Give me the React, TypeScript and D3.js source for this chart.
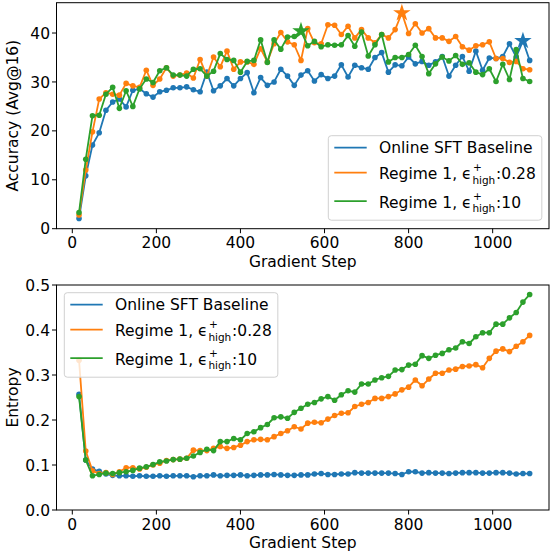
import React, { useEffect, useRef } from "react";
import * as d3 from "d3";

const steps = [16, 32, 48, 64, 80, 96, 112, 128, 144, 160, 176, 192, 208, 224, 240, 256, 272, 288, 304, 320, 336, 352, 368, 384, 400, 416, 432, 448, 464, 480, 496, 512, 528, 544, 560, 576, 592, 608, 624, 640, 656, 672, 688, 704, 720, 736, 752, 768, 784, 800, 816, 832, 848, 864, 880, 896, 912, 928, 944, 960, 976, 992, 1008, 1024, 1040, 1056, 1072, 1088];

const accBaseline = [2.1, 10.8, 17.1, 19.6, 24.2, 25.9, 26.5, 24.9, 28.3, 28.6, 27.6, 26.9, 28.0, 28.3, 28.8, 28.8, 29.0, 28.4, 28.0, 32.0, 28.2, 29.2, 30.7, 29.2, 30.7, 31.9, 27.8, 30.9, 29.3, 30.0, 32.6, 31.2, 29.3, 31.4, 32.3, 30.2, 31.5, 30.7, 31.2, 33.5, 31.0, 33.4, 32.9, 32.6, 35.0, 36.0, 32.0, 33.5, 33.3, 35.1, 33.7, 34.2, 33.4, 34.1, 35.2, 31.2, 33.4, 35.2, 32.2, 36.3, 32.4, 34.9, 34.8, 35.2, 37.8, 35.1, 38.4, 34.4];
const accEps028 = [2.8, 12.0, 19.8, 26.5, 27.8, 27.5, 27.3, 29.7, 29.2, 28.9, 32.4, 29.3, 30.6, 32.9, 31.2, 31.4, 31.8, 30.8, 34.6, 31.2, 35.1, 33.1, 36.3, 32.6, 34.1, 34.1, 33.6, 36.8, 34.1, 37.8, 40.1, 38.2, 37.6, 34.4, 40.9, 38.0, 37.8, 41.7, 41.6, 39.7, 41.4, 39.0, 40.7, 39.0, 38.0, 39.7, 39.0, 40.7, 44.1, 39.9, 41.9, 40.0, 40.9, 39.0, 39.0, 38.3, 39.3, 37.2, 36.5, 37.4, 37.6, 38.2, 34.8, 34.8, 34.0, 34.2, 32.7, 32.5];
const accEps10 = [3.3, 14.2, 23.1, 23.2, 27.5, 28.9, 24.6, 28.2, 25.0, 28.6, 30.6, 29.9, 32.3, 32.9, 31.4, 31.4, 31.2, 32.6, 32.7, 31.2, 32.2, 35.8, 34.6, 34.4, 32.0, 34.2, 34.4, 38.6, 34.0, 38.6, 36.7, 39.2, 39.3, 40.4, 37.4, 38.3, 37.2, 37.6, 37.5, 37.6, 39.5, 37.3, 40.2, 35.3, 37.6, 39.7, 34.1, 35.0, 35.0, 35.6, 37.5, 35.2, 31.7, 33.7, 35.1, 34.3, 35.4, 33.6, 33.9, 32.0, 31.5, 32.7, 30.1, 33.6, 30.5, 36.6, 30.7, 30.1];

const entBaseline = [0.257, 0.111, 0.091, 0.086, 0.080, 0.077, 0.076, 0.076, 0.075, 0.076, 0.075, 0.075, 0.076, 0.075, 0.076, 0.076, 0.076, 0.074, 0.076, 0.076, 0.078, 0.076, 0.077, 0.077, 0.078, 0.076, 0.077, 0.078, 0.078, 0.079, 0.078, 0.077, 0.077, 0.078, 0.078, 0.080, 0.081, 0.079, 0.079, 0.080, 0.080, 0.083, 0.082, 0.082, 0.082, 0.082, 0.082, 0.081, 0.079, 0.085, 0.085, 0.082, 0.083, 0.082, 0.082, 0.081, 0.082, 0.083, 0.083, 0.083, 0.082, 0.082, 0.083, 0.083, 0.082, 0.080, 0.081, 0.081];
const entEps028 = [0.333, 0.131, 0.087, 0.081, 0.083, 0.079, 0.085, 0.094, 0.094, 0.091, 0.095, 0.100, 0.104, 0.110, 0.112, 0.113, 0.115, 0.133, 0.132, 0.132, 0.137, 0.141, 0.137, 0.139, 0.144, 0.152, 0.156, 0.157, 0.156, 0.163, 0.170, 0.176, 0.185, 0.180, 0.193, 0.195, 0.194, 0.202, 0.210, 0.215, 0.216, 0.230, 0.235, 0.239, 0.248, 0.248, 0.252, 0.258, 0.267, 0.273, 0.289, 0.276, 0.291, 0.304, 0.304, 0.311, 0.313, 0.319, 0.320, 0.323, 0.316, 0.337, 0.353, 0.358, 0.352, 0.364, 0.374, 0.388];
const entEps10 = [0.252, 0.111, 0.076, 0.079, 0.082, 0.081, 0.083, 0.085, 0.088, 0.093, 0.096, 0.101, 0.107, 0.109, 0.112, 0.113, 0.115, 0.120, 0.128, 0.135, 0.132, 0.152, 0.152, 0.159, 0.156, 0.170, 0.174, 0.183, 0.190, 0.205, 0.207, 0.204, 0.217, 0.226, 0.235, 0.239, 0.247, 0.252, 0.244, 0.256, 0.265, 0.262, 0.280, 0.280, 0.289, 0.294, 0.297, 0.311, 0.312, 0.322, 0.324, 0.343, 0.337, 0.344, 0.348, 0.356, 0.360, 0.374, 0.370, 0.385, 0.394, 0.394, 0.413, 0.413, 0.427, 0.439, 0.462, 0.479];

const xTicks = [0, 200, 400, 600, 800, 1000];
const accTicks = [0, 10, 20, 30, 40];
const entTicks = [0, 0.1, 0.2, 0.3, 0.4, 0.5];
const seriesColors = ["#1f77b4", "#ff7f0e", "#2ca02c"];
const baselineName = "Online SFT Baseline";
const regimePrefix = "Regime 1, \u03F5";
const epsLabels = ["0.28", "10"];

const FONT = "DejaVu Sans";
const FS = 15.5;
const SFS = 10.5;

export default function App() {
  const ref = useRef<SVGSVGElement>(null);

  useEffect(() => {
    const svg = d3.select(ref.current);
    svg.selectAll("*").remove();
    svg.append("rect").attr("width", 550).attr("height", 554).attr("fill", "#fff");

    const measure = (txt: string, size: number) => {
      const t = svg
        .append("text")
        .attr("font-family", FONT)
        .attr("font-size", size)
        .attr("visibility", "hidden")
        .text(txt);
      const w = (t.node() as SVGTextElement).getComputedTextLength();
      t.remove();
      return w;
    };

    const x = d3.scaleLinear().domain([-37.6, 1134]).range([56.5, 549]);

    const panels = [
      {
        y: d3.scaleLinear().domain([0, 46.2]).range([228.7, 2.7]),
        series: [accBaseline, accEps028, accEps10],
        ticks: accTicks,
        fmt: (d: number) => d3.format("d")(d),
        ylabel: "Accuracy (Avg@16)",
        stars: true,
        legend: { left: 328.3, top: 135.7 },
      },
      {
        y: d3.scaleLinear().domain([0, 0.5]).range([510, 285]),
        series: [entBaseline, entEps028, entEps10],
        ticks: entTicks,
        fmt: (d: number) => d3.format(".1f")(d),
        ylabel: "Entropy",
        stars: false,
        legend: { left: 64.3, top: 292.7 },
      },
    ];

    panels.forEach((p) => {
      const g = svg.append("g");
      const [yBottom, yTop] = p.y.range();
      const [xl, xr] = x.range();

      p.series.forEach((vals, si) => {
        const line = d3
          .line<number>()
          .x((_, i) => x(steps[i]))
          .y((d) => p.y(d));
        g.append("path")
          .attr("d", line(vals))
          .attr("fill", "none")
          .attr("stroke", seriesColors[si])
          .attr("stroke-width", 1.8)
          .attr("stroke-linejoin", "round");
        g.selectAll(null)
          .data(vals)
          .enter()
          .append("circle")
          .attr("cx", (_, i) => x(steps[i]))
          .attr("cy", (d) => p.y(d))
          .attr("r", 2.8)
          .attr("fill", seriesColors[si]);
      });
      if (p.stars) {
        p.series.forEach((vals, si) => {
          const mi = d3.maxIndex(vals);
          g.append("path")
            .attr("d", d3.symbol(d3.symbolStar, 95)())
            .attr("transform", `translate(${x(steps[mi])},${p.y(vals[mi])})`)
            .attr("fill", seriesColors[si]);
        });
      }

      g.append("rect")
        .attr("x", xl)
        .attr("y", yTop)
        .attr("width", xr - xl)
        .attr("height", yBottom - yTop)
        .attr("fill", "none")
        .attr("stroke", "#000")
        .attr("stroke-width", 1);

      xTicks.forEach((t) => {
        g.append("line")
          .attr("x1", x(t))
          .attr("x2", x(t))
          .attr("y1", yBottom)
          .attr("y2", yBottom + 4.5)
          .attr("stroke", "#000");
        g.append("text")
          .attr("x", x(t))
          .attr("y", yBottom + 19.5)
          .attr("text-anchor", "middle")
          .attr("font-family", FONT)
          .attr("font-size", FS)
          .text(String(t));
      });
      g.append("text")
        .attr("x", (xl + xr) / 2)
        .attr("y", yBottom + 38)
        .attr("text-anchor", "middle")
        .attr("font-family", FONT)
        .attr("font-size", FS)
        .text("Gradient Step");

      p.ticks.forEach((t) => {
        g.append("line")
          .attr("x1", xl - 4.5)
          .attr("x2", xl)
          .attr("y1", p.y(t))
          .attr("y2", p.y(t))
          .attr("stroke", "#000");
        g.append("text")
          .attr("x", xl - 6.5)
          .attr("y", p.y(t))
          .attr("dy", "0.36em")
          .attr("text-anchor", "end")
          .attr("font-family", FONT)
          .attr("font-size", FS)
          .text(p.fmt(t));
      });
      g.append("text")
        .attr("transform", `translate(12.5,${(yTop + yBottom) / 2}) rotate(-90)`)
        .attr("dy", "0.36em")
        .attr("text-anchor", "middle")
        .attr("font-family", FONT)
        .attr("font-size", FS)
        .text(p.ylabel);

      const lg = svg.append("g");
      const box = lg
        .append("rect")
        .attr("x", p.legend.left)
        .attr("y", p.legend.top)
        .attr("rx", 3)
        .attr("height", 84.5)
        .attr("fill", "#fff")
        .attr("fill-opacity", 0.8)
        .attr("stroke", "#d0d0d0")
        .attr("stroke-width", 1);
      const rowY = [12, 37, 65.5];
      const tx = p.legend.left + 50.7;
      let maxEnd = 0;
      rowY.forEach((ry, ri) => {
        const cy = p.legend.top + ry;
        lg.append("line")
          .attr("x1", p.legend.left + 6)
          .attr("x2", p.legend.left + 38.4)
          .attr("y1", cy)
          .attr("y2", cy)
          .attr("stroke", seriesColors[ri])
          .attr("stroke-width", 1.8);
        if (ri === 0) {
          lg.append("text")
            .attr("x", tx)
            .attr("y", cy + 5.6)
            .attr("font-family", FONT)
            .attr("font-size", FS)
            .text(baselineName);
          maxEnd = Math.max(maxEnd, tx + measure(baselineName, FS));
        } else {
          const base = cy + 6.6;
          const w1 = measure(regimePrefix, FS);
          const sx = tx + w1 + 0.8;
          const w3 = measure("high", SFS);
          const tail = ":" + epsLabels[ri - 1];
          const w4 = measure(tail, FS);
          const t = lg
            .append("text")
            .attr("font-family", FONT)
            .attr("font-size", FS);
          t.append("tspan").attr("x", tx).attr("y", base).text(regimePrefix);
          t.append("tspan").attr("x", sx).attr("y", base + 4.2).attr("font-size", SFS).text("high");
          t.append("tspan").attr("x", sx + w3 + 0.8).attr("y", base).text(tail);
          lg.append("text")
            .attr("x", sx + 0.5)
            .attr("y", base - 8.3)
            .attr("font-family", FONT)
            .attr("font-size", SFS)
            .text("+");
          maxEnd = Math.max(maxEnd, sx + w3 + 0.8 + w4);
        }
      });
      box.attr("width", maxEnd - p.legend.left + 6);
    });
  }, []);

  return (
    <svg
      ref={ref}
      width={550}
      height={554}
      style={{ position: "absolute", left: 0, top: 0, display: "block" }}
    />
  );
}
